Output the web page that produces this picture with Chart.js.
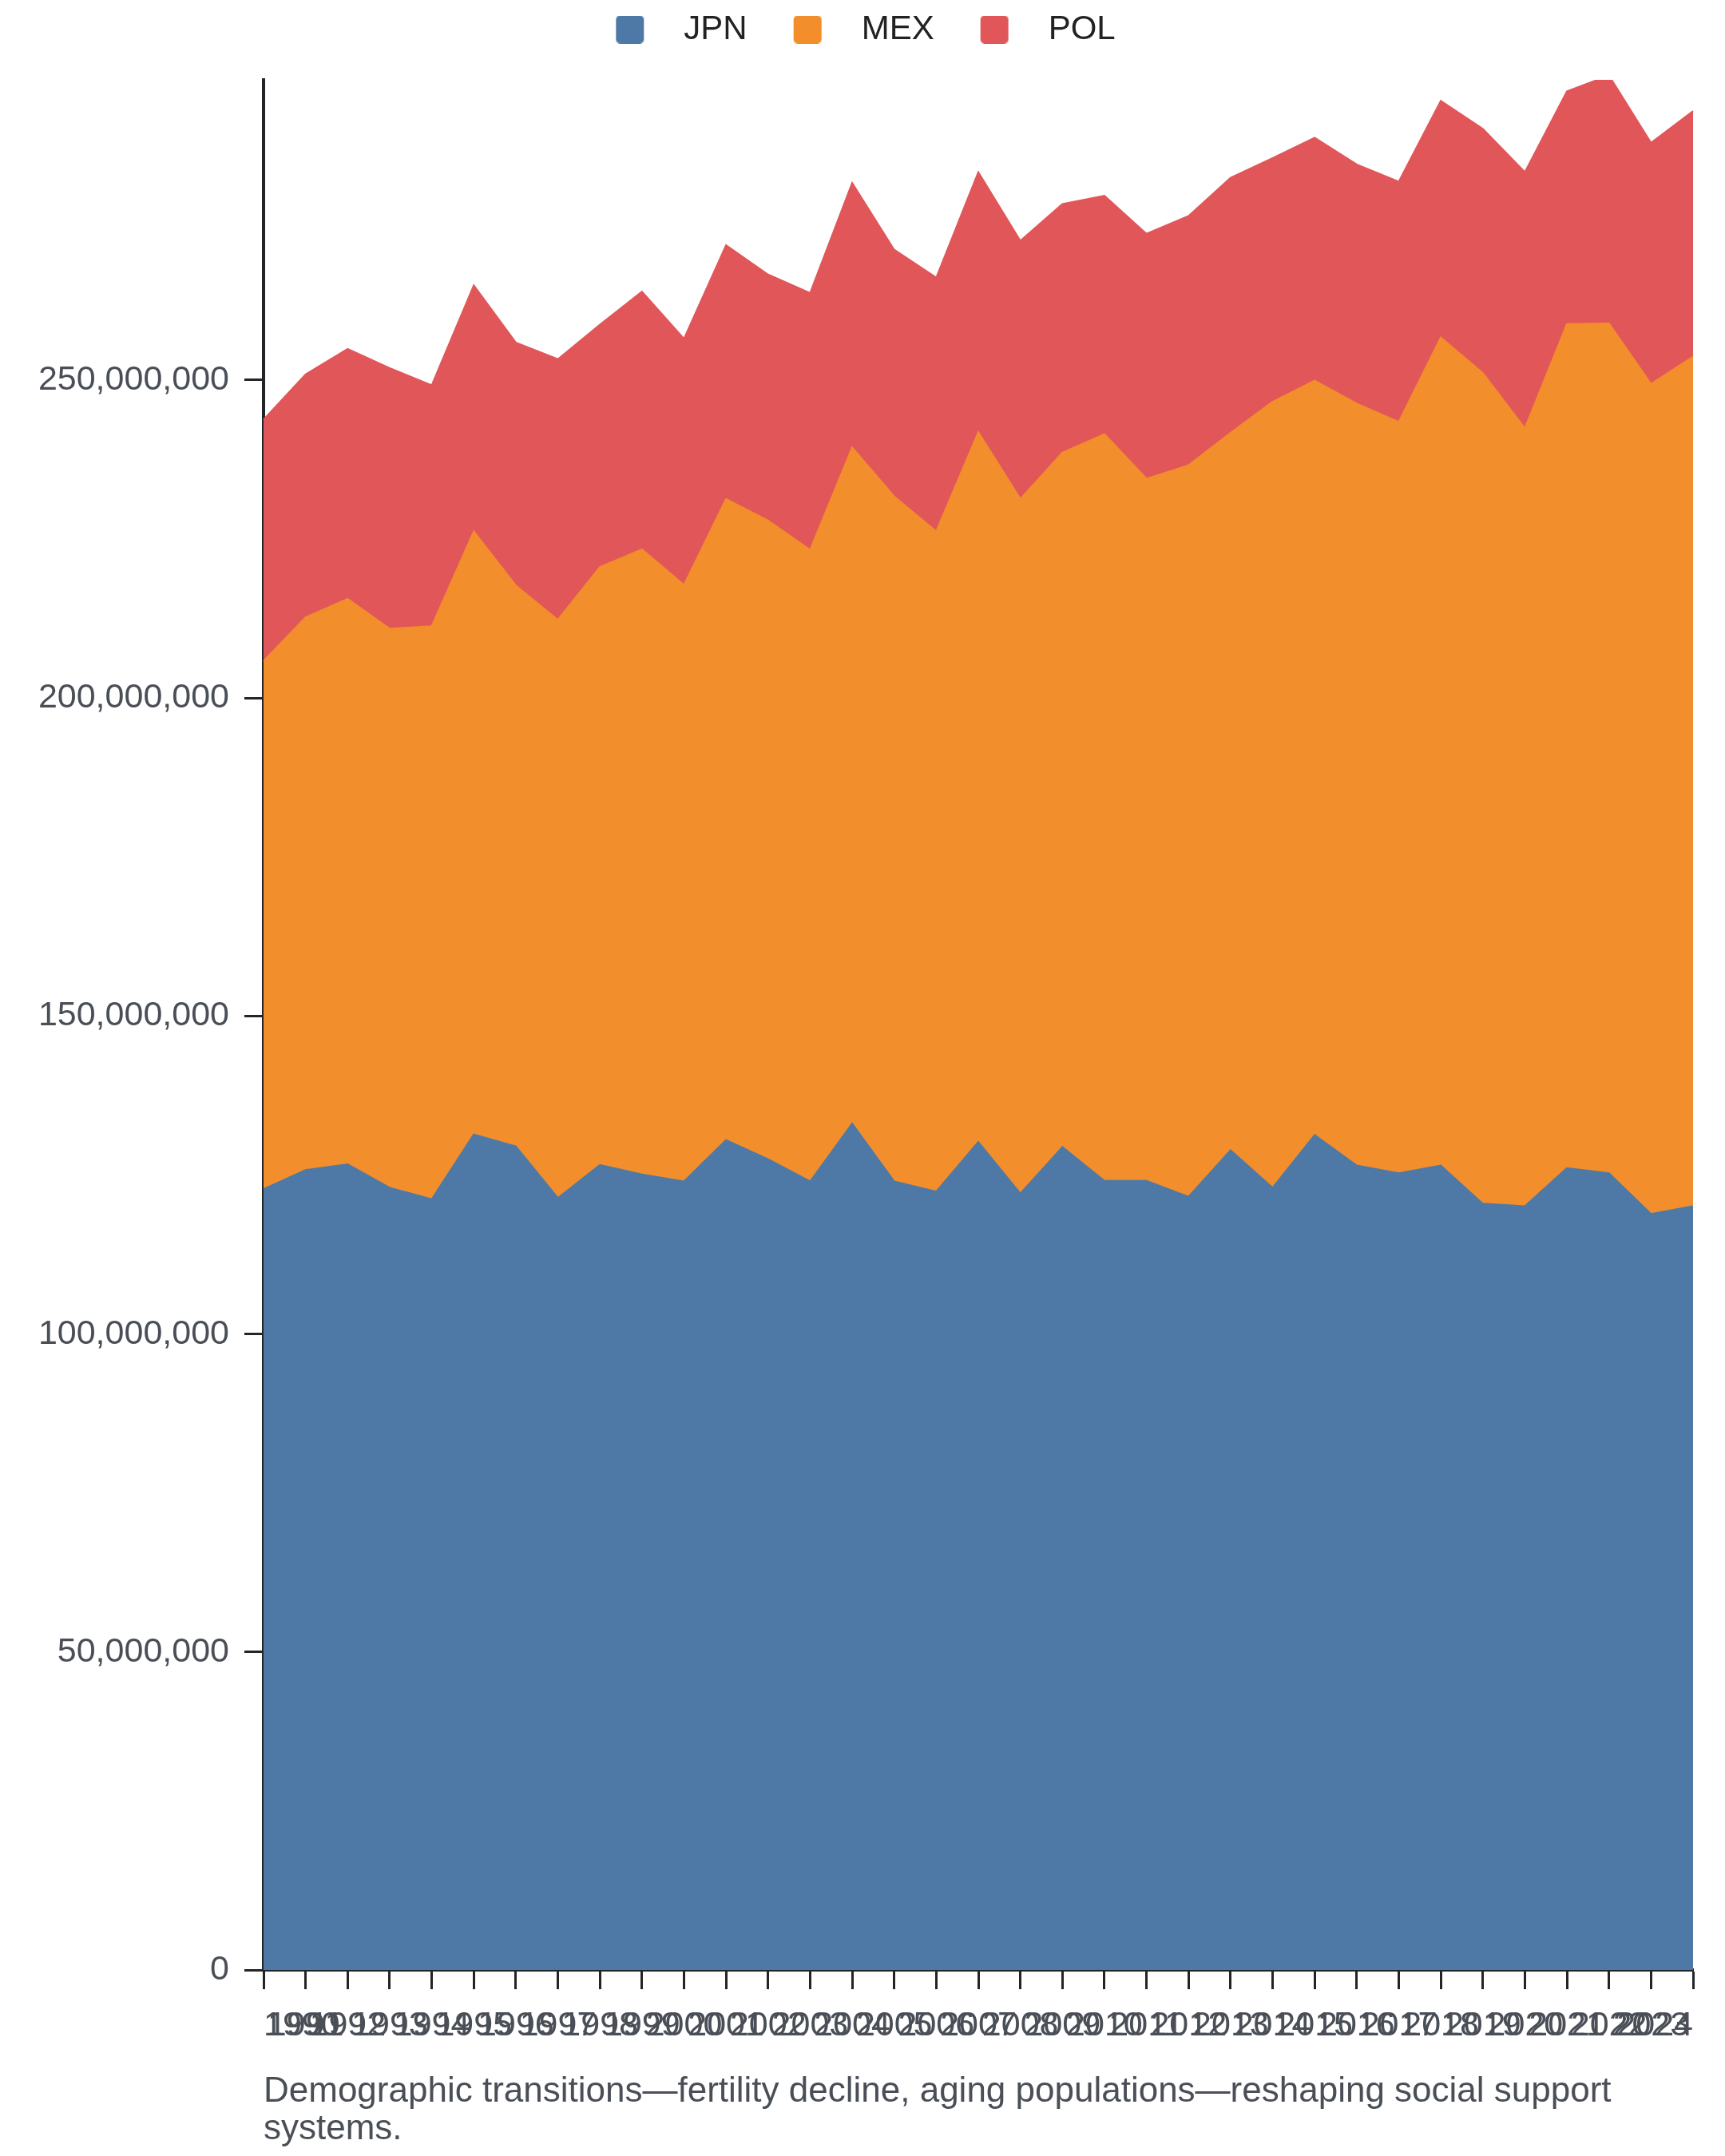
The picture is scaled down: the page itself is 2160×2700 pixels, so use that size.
<!DOCTYPE html>
<html>
<head>
<meta charset="utf-8">
<script src="https://cdn.jsdelivr.net/npm/chart.js@4.4.1/dist/chart.umd.min.js"></script>
<style>
  html, body { margin: 0; padding: 0; background: #ffffff; }
  #wrap { width: 2160px; height: 2700px; position: relative; }
</style>
</head>
<body>
<div id="wrap"><canvas id="chart"></canvas></div>
<script>
// ---------- data ----------
const years = ['1990','1991','1992','1993','1994','1995','1996','1997','1998','1999',
               '2000','2001','2002','2003','2004','2005','2006','2007','2008','2009',
               '2010','2011','2012','2013','2014','2015','2016','2017','2018','2019',
               '2020','2021','2022','2023','2024'];

const seriesNames = ['JPN', 'MEX', 'POL'];

const jpnValues = [122800000,125800000,126700000,123000000,121200000,131400000,129500000,121400000,126600000,125100000,
                   124000000,130500000,127500000,124000000,133100000,124000000,122400000,130200000,122100000,129400000,
                   124100000,124100000,121600000,128900000,123000000,131300000,126500000,125300000,126500000,120500000,
                   120100000,126100000,125300000,118900000,120100000];

const mexValues = [83000000,86900000,88900000,87900000,90100000,94800000,88200000,90900000,94000000,98300000,
                   93800000,100800000,100400000,99300000,106300000,107700000,103800000,111600000,109200000,109200000,
                   117400000,110400000,115000000,112800000,123600000,118600000,119800000,118100000,130200000,130600000,
                   122300000,132700000,133600000,130500000,133600000];

const polValues = [38000000,38200000,39300000,41000000,37900000,38700000,38200000,41000000,38100000,40500000,
                   38700000,39900000,38700000,40400000,41600000,38800000,39900000,40900000,40600000,39100000,
                   37500000,38500000,39200000,40100000,38300000,38200000,37600000,37800000,37200000,38400000,
                   40300000,36600000,39000000,37900000,38600000];

const yTickValues = [0, 50000000, 100000000, 150000000, 200000000, 250000000];
const yAxisMax = 297200000;

const titleLines = ['Demographic transitions\u2014fertility decline, aging populations\u2014reshaping social support',
                    'systems.'];

// ---------- styling ----------
const seriesColors = ['#4e79a7', '#f28e2b', '#e15759'];
const TEXT_GRAY = '#4a4f57';
const AXIS_DARK = '#222428';
const LEGEND_TEXT = '#222222';
const LEGEND_BLOCK_HEIGHT = 100;
const LEGEND_SHIFT = -21;
const Y_AXIS_WIDTH = 282;
const X_AXIS_HEIGHT = 95.6;

Chart.defaults.font.family = "'Liberation Sans', Arial, Helvetica, sans-serif";

function swatch(color) {
  const c = document.createElement('canvas');
  c.width = 106; c.height = 35;
  const g = c.getContext('2d');
  const x = 42, y = 0, w = 35, h = 35, r = 5;
  g.fillStyle = color;
  g.beginPath();
  g.moveTo(x + r, y);
  g.lineTo(x + w - r, y);
  g.arcTo(x + w, y, x + w, y + r, r);
  g.lineTo(x + w, y + h - r);
  g.arcTo(x + w, y + h, x + w - r, y + h, r);
  g.lineTo(x + r, y + h);
  g.arcTo(x, y + h, x, y + h - r, r);
  g.lineTo(x, y + r);
  g.arcTo(x, y, x + r, y, r);
  g.closePath();
  g.fill();
  return c;
}

const legendTweaks = {
  id: 'legendTweaks',
  beforeInit(chart) {
    const origFit = chart.legend.fit;
    chart.legend.fit = function () {
      origFit.call(this);
      this.height = LEGEND_BLOCK_HEIGHT;
    };
  },
  afterLayout(chart) {
    chart.legend.left += LEGEND_SHIFT;
    chart.legend.right += LEGEND_SHIFT;
  }
};

const valueLists = [jpnValues, mexValues, polValues];
const datasets = seriesNames.map((name, i) => ({
  label: name,
  data: valueLists[i],
  backgroundColor: seriesColors[i],
  borderColor: seriesColors[i],
  borderWidth: 2,
  fill: i === 0 ? 'origin' : '-1',
  pointRadius: 0,
  pointHoverRadius: 0,
  tension: 0
}));

const axisGrid = {
  display: true,
  drawOnChartArea: false,
  drawTicks: true,
  tickLength: 24,
  tickWidth: 3,
  tickColor: AXIS_DARK
};
const axisBorder = { display: true, color: AXIS_DARK, width: 4 };

new Chart(document.getElementById('chart'), {
  type: 'line',
  data: { labels: years, datasets },
  plugins: [legendTweaks],
  options: {
    responsive: true,
    maintainAspectRatio: false,
    animation: false,
    layout: { padding: { left: 48, right: 40, top: 0, bottom: 10 } },
    interaction: { mode: 'index', intersect: false },
    plugins: {
      tooltip: { enabled: false },
      legend: {
        display: true,
        position: 'top',
        align: 'center',
        labels: {
          usePointStyle: true,
          pointStyleWidth: 106,
          boxHeight: 42,
          padding: 16,
          color: LEGEND_TEXT,
          font: { size: 42 },
          generateLabels(chart) {
            return chart.data.datasets.map((ds, i) => ({
              text: ds.label,
              fillStyle: ds.backgroundColor,
              strokeStyle: ds.backgroundColor,
              lineWidth: 0,
              pointStyle: swatch(ds.backgroundColor),
              hidden: !chart.isDatasetVisible(i),
              datasetIndex: i,
              fontColor: LEGEND_TEXT
            }));
          }
        }
      },
      title: {
        display: true,
        text: titleLines,
        position: 'bottom',
        align: 'start',
        fullSize: false,
        color: TEXT_GRAY,
        font: { size: 44, weight: 'normal', lineHeight: 1.06 },
        padding: { top: 34, bottom: 0 }
      }
    },
    scales: {
      x: {
        type: 'category',
        offset: false,
        grid: axisGrid,
        border: axisBorder,
        afterFit(scale) { scale.height = X_AXIS_HEIGHT; },
        ticks: {
          autoSkip: false,
          maxRotation: 0,
          minRotation: 0,
          align: 'inner',
          padding: 20,
          color: TEXT_GRAY,
          font: { size: 43 }
        }
      },
      y: {
        stacked: true,
        min: 0,
        max: yAxisMax,
        grid: axisGrid,
        border: axisBorder,
        afterFit(scale) { scale.width = Y_AXIS_WIDTH; },
        afterBuildTicks(scale) {
          scale.ticks = yTickValues.map(v => ({ value: v }));
        },
        ticks: {
          padding: 19,
          color: TEXT_GRAY,
          font: { size: 43 },
          callback: v => Number(v).toLocaleString('en-US')
        }
      }
    }
  }
});
</script>
</body>
</html>
